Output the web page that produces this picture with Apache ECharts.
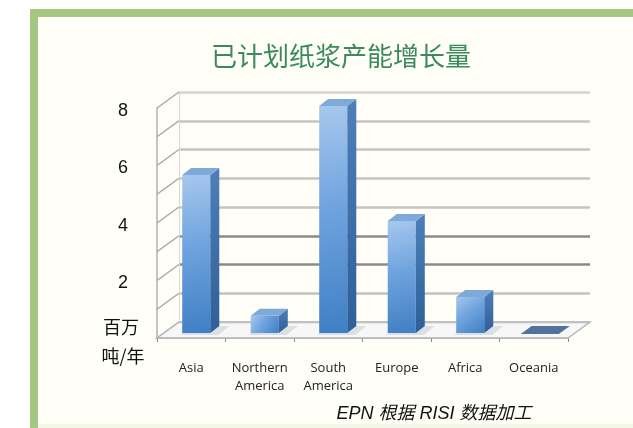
<!DOCTYPE html>
<html>
<head>
<meta charset="utf-8">
<script src="https://cdn.jsdelivr.net/npm/echarts@6/dist/echarts.min.js"></script>
<style>
html,body{margin:0;padding:0;background:#ffffff;}
#c{width:633px;height:428px;}
</style>
</head>
<body>
<div id="c"></div>
<script>
var titleText = '已计划纸浆产能增长量';
var categories = ['Asia', 'Northern America', 'South America', 'Europe', 'Africa', 'Oceania'];
var values = [5.5, 0.6, 7.9, 3.9, 1.25, 0];
var yTicks = [0, 1, 2, 3, 4, 5, 6, 7, 8];
var unitLine1 = '百万';
var unitLine2 = '吨/年';
var sourceText = 'EPN 根据 RISI 数据加工';

var DX = 22, DY = -16;      // floor depth offset (style)
var BDX = 9, BDY = -7;      // bar depth offset (style)
var BSHIFT = 5;             // bar inset into floor

var chart = echarts.init(document.getElementById('c'), null, {renderer: 'canvas'});

var option = {
  animation: false,
  backgroundColor: '#ffffff',
  graphic: [
    {type: 'rect', shape: {x: 38, y: 17, width: 595, height: 411}, style: {fill: '#fffff8'}, z: -10},
    {type: 'rect', shape: {x: 30, y: 9, width: 603, height: 8}, style: {fill: '#a6c684'}, z: 10},
    {type: 'rect', shape: {x: 30, y: 9, width: 8, height: 419}, style: {fill: '#a6c684'}, z: 10},
    {type: 'rect', shape: {x: 38, y: 424, width: 595, height: 4}, style: {fill: '#f1f8e6'}, z: 9},
    {type: 'text', x: 341, y: 56, style: {text: titleText, fill: '#3a8a5a', font: '26px "Noto Sans CJK SC"', align: 'center', verticalAlign: 'middle'}},
    {type: 'text', x: 121, y: 327, style: {text: unitLine1, fill: '#111', font: '18px "Noto Sans CJK SC"', align: 'center', verticalAlign: 'middle'}},
    {type: 'text', x: 123, y: 356, style: {text: unitLine2, fill: '#111', font: '18px "Noto Sans CJK SC"', align: 'center', verticalAlign: 'middle'}},
    {type: 'text', x: 434, y: 414, style: {text: sourceText, fill: '#111', font: 'italic 18px "Liberation Sans", "Noto Sans CJK SC"', align: 'center', verticalAlign: 'middle'}}
  ],
  grid: [
    {left: 157, top: 108, width: 411, height: 230},
    {left: 157 + DX, top: 108 + DY, width: 411, height: 230}
  ],
  xAxis: [
    {
      type: 'category', gridIndex: 0, data: categories, boundaryGap: true,
      axisLine: {show: true, lineStyle: {color: '#a8a8a8', width: 1.5}},
      axisTick: {show: true, interval: 0, length: 4, lineStyle: {color: '#888'}},
      axisLabel: {
        interval: 0, margin: 21, color: '#222', fontSize: 13, lineHeight: 18,
        fontFamily: '"Open Sans", "Liberation Sans"',
        formatter: function (v) { return v.replace(' ', '\n'); }
      },
      splitLine: {show: false}
    },
    {type: 'category', gridIndex: 1, data: categories, show: false}
  ],
  yAxis: [
    {
      type: 'value', gridIndex: 0, min: 0, max: 8, interval: 2,
      axisLine: {show: true, lineStyle: {color: '#b0b0b0', width: 1.5}},
      axisTick: {show: false},
      splitLine: {show: false},
      axisLabel: {margin: 29, color: '#111', fontSize: 18, fontFamily: '"Liberation Sans", Arial',
        showMinLabel: false, verticalAlign: 'top', lineHeight: 6}
    },
    {
      type: 'value', gridIndex: 1, min: 0, max: 8, interval: 1,
      axisLine: {show: true, lineStyle: {color: '#d8d8d8', width: 1}},
      axisTick: {show: false},
      axisLabel: {show: false},
      splitLine: {show: true, lineStyle: {width: 2.5, color: ['#c9c9c9', '#c2c2c2', '#8a8a8a', '#8a8a8a', '#c4c4c4', '#c4c4c4', '#c4c4c4', '#c4c4c4', '#d4d4d4']}}
    }
  ],
  series: [
    {
      type: 'custom', xAxisIndex: 0, yAxisIndex: 0, z: 1, silent: true,
      data: yTicks.map(function (v) { return [0, v]; }),
      renderItem: function (params, api) {
        var cs = params.coordSys;
        var y = api.coord([0, api.value(1)])[1];
        var children = [{
          type: 'line',
          shape: {x1: cs.x, y1: y, x2: cs.x + DX, y2: y + DY},
          style: {stroke: '#a8a8a8', lineWidth: 1.5}
        }];
        if (api.value(1) === 0) {
          children.push({
            type: 'polygon',
            shape: {points: [[cs.x, y], [cs.x + cs.width, y], [cs.x + cs.width + DX, y + DY], [cs.x + DX, y + DY]]},
            style: {fill: 'rgba(240,242,245,0.6)', stroke: '#b8b8b8', lineWidth: 1.5}
          });
        }
        return {type: 'group', children: children};
      }
    },
    {
      type: 'custom', xAxisIndex: 0, yAxisIndex: 0, z: 3, silent: true,
      data: values.map(function (v, i) { return [i, v]; }),
      renderItem: function (params, api) {
        var i = api.value(0), v = api.value(1);
        var pTop = api.coord([i, v]);
        var pBase = api.coord([i, 0]);
        var band = api.size([1, 0])[0];
        var w = band * 0.41;
        var cx = pTop[0] + BSHIFT;
        var x0 = cx - w / 2, x1 = cx + w / 2;
        var yb = pBase[1] - BSHIFT, yt = pTop[1] - BSHIFT;
        if (v === 0) {
          return {
            type: 'polygon',
            shape: {points: [[x0 - 4, yb + 1], [x1 + 6, yb + 1], [x1 + BDX + 8, yb + BDY], [x0 + BDX - 2, yb + BDY]]},
            style: {fill: '#54739c'}
          };
        }
        return {
          type: 'group',
          children: [
            {type: 'polygon', shape: {points: [[x0 - 2, yb + 2], [x1 + 8, yb + 2], [x1 + BDX + 10, yb + BDY], [x0 + BDX, yb + BDY]]},
              style: {fill: 'rgba(170,180,195,0.35)'}},
            {type: 'rect', shape: {x: x0, y: yt, width: w, height: yb - yt},
              style: {fill: new echarts.graphic.LinearGradient(0, 0, 1, 1, [
                {offset: 0, color: '#a6c8ee'}, {offset: 0.45, color: '#6fa3de'}, {offset: 1, color: '#3f7fc4'}])}},
            {type: 'polygon', shape: {points: [[x1, yt], [x1 + BDX, yt + BDY], [x1 + BDX, yb + BDY], [x1, yb]]},
              style: {fill: new echarts.graphic.LinearGradient(0, 0, 0, 1, [
                {offset: 0, color: '#4f7fb8'}, {offset: 1, color: '#2f5f98'}])}},
            {type: 'polygon', shape: {points: [[x0, yt], [x1, yt], [x1 + BDX, yt + BDY], [x0 + BDX, yt + BDY]]},
              style: {fill: '#7ea9d8'}}
          ]
        };
      }
    }
  ]
};
chart.setOption(option);
</script>
</body>
</html>
